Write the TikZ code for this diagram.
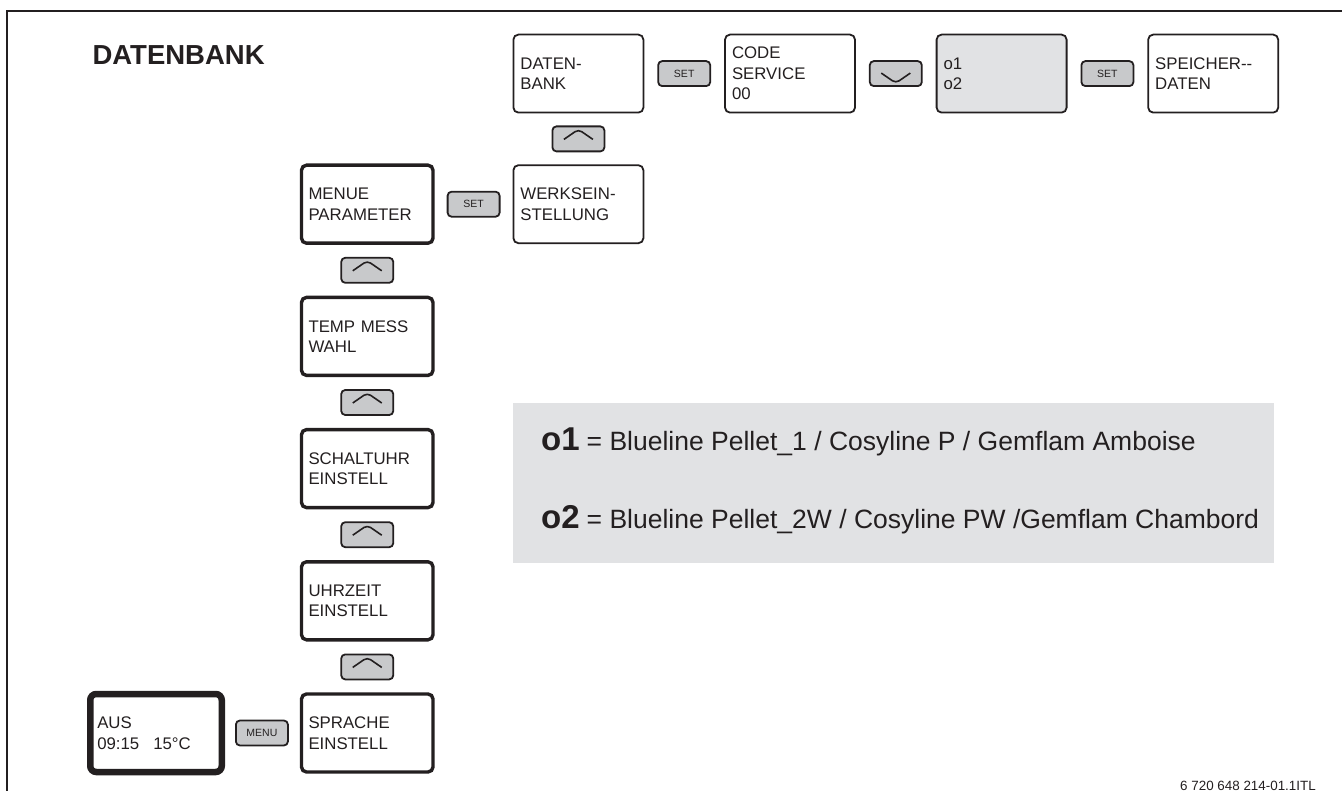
\documentclass[tikz,border=0pt]{standalone}
\usepackage{fontspec}
\setmainfont{Liberation Sans}
\usetikzlibrary{positioning}
\definecolor{lineDark}{HTML}{231F20}
\definecolor{keyGrey}{HTML}{C8C9CB}
\definecolor{panelGrey}{HTML}{E1E2E4}

\begin{document}
\begin{tikzpicture}[
    x=1pt, y=-1pt,
    node distance=12pt,
    screenBox/.style={rectangle, rounded corners=5pt, draw=lineDark, line width=1.8pt, minimum width=130pt, minimum height=78pt, text width=116pt, inner xsep=7pt, align=left, text=lineDark, font=\fontsize{16.8}{20.5}\selectfont},
    boldBox/.style={screenBox, line width=3.4pt, minimum width=131.5pt, text width=117.5pt},
    homeBox/.style={screenBox, line width=6.5pt, rounded corners=6pt, minimum width=131.5pt, text width=117.5pt},
    keyNode/.style={rectangle, rounded corners=4pt, draw=lineDark, fill=keyGrey, line width=1.8pt, minimum width=52pt, minimum height=25pt, inner sep=0pt, text=lineDark, font=\fontsize{10.5}{12}\selectfont},
    upKey/.style={keyNode, path picture={\draw[lineDark, line width=1.6pt, line join=round] ([xshift=-14.5pt, yshift=-0.5pt]path picture bounding box.center) -- ++(14.5pt,10pt) -- ++(14.5pt,-10pt);}},
    downKey/.style={keyNode, path picture={\draw[lineDark, line width=1.6pt, line join=round] ([xshift=-14.5pt, yshift=0.5pt]path picture bounding box.center) -- ++(14.5pt,-10pt) -- ++(14.5pt,10pt);}}
  ]
  \useasboundingbox (0,0) rectangle (1342,791);

  % Frame and title
  \draw[lineDark, line width=2pt] (7.3,791) -- (7.3,10.7) -- (1342,10.7);
  \node[anchor=base west, text=lineDark, font=\bfseries\fontsize{27.5}{32}\selectfont] (title) at (89,65) {DATENBANK};

  % Bottom row
  \node[homeBox] (aus) at (156,733) {AUS\\09:15\hspace{14pt}15°C};
  \node[keyNode, right=10pt of aus] (menuKey) {MENU};
  \node[boldBox, right=11pt of menuKey] (sprache) {SPRACHE\\EINSTELL};

  % Left column
  \node[upKey, above=of sprache] (upA) {};
  \node[boldBox, above=of upA] (uhrzeit) {UHRZEIT\\EINSTELL};
  \node[upKey, above=of uhrzeit] (upB) {};
  \node[boldBox, above=of upB] (schaltuhr) {SCHALTUHR\\EINSTELL};
  \node[upKey, above=of schaltuhr] (upC) {};
  \node[boldBox, above=of upC] (tempMess) {TEMP MESS\\WAHL};
  \node[upKey, above=of tempMess] (upD) {};
  \node[boldBox, above=of upD] (menue) {MENUE\\PARAMETER};

  % Second column
  \node[keyNode, right=of menue] (setA) {SET};
  \node[screenBox, right=of setA] (werk) {WERKSEIN-\\STELLUNG};
  \node[upKey, above=of werk] (upE) {};
  \node[screenBox, above=of upE] (datenBank) {DATEN-\\BANK};

  % Top row
  \node[keyNode, right=13pt of datenBank] (setB) {SET};
  \node[screenBox, right=13pt of setB] (code) {CODE\\SERVICE\\00};
  \node[downKey, right=13pt of code] (downA) {};
  \node[screenBox, fill=panelGrey, right=13pt of downA] (oSel) {o1\\o2};
  \node[keyNode, right=13pt of oSel] (setC) {SET};
  \node[screenBox, right=13pt of setC] (speicher) {SPEICHER-{}-\\DATEN};

  % Legend
  \node[rectangle, fill=panelGrey, minimum width=761pt, minimum height=160pt, anchor=north west] (legend) at (513,403) {};
  \node[anchor=base west, text=lineDark, inner sep=0pt] (legendA) at (541,451)
    {{\bfseries\fontsize{33}{36}\selectfont o1}\hspace{7pt}{\fontsize{26.5}{30}\selectfont = Blueline Pellet\_1 / Cosyline P / Gemflam Amboise}};
  \node[anchor=base west, text=lineDark, inner sep=0pt] (legendB) at (541,529)
    {{\bfseries\fontsize{33}{36}\selectfont o2}\hspace{7pt}{\fontsize{26.5}{30}\selectfont = Blueline Pellet\_2W / Cosyline PW /Gemflam Chambord}};

  % Drawing number
  \node[anchor=base east, text=lineDark, inner sep=0pt, font=\fontsize{13.4}{16}\selectfont] (docNumber) at (1316,790) {6 720 648 214-01.1ITL};
\end{tikzpicture}
\end{document}
